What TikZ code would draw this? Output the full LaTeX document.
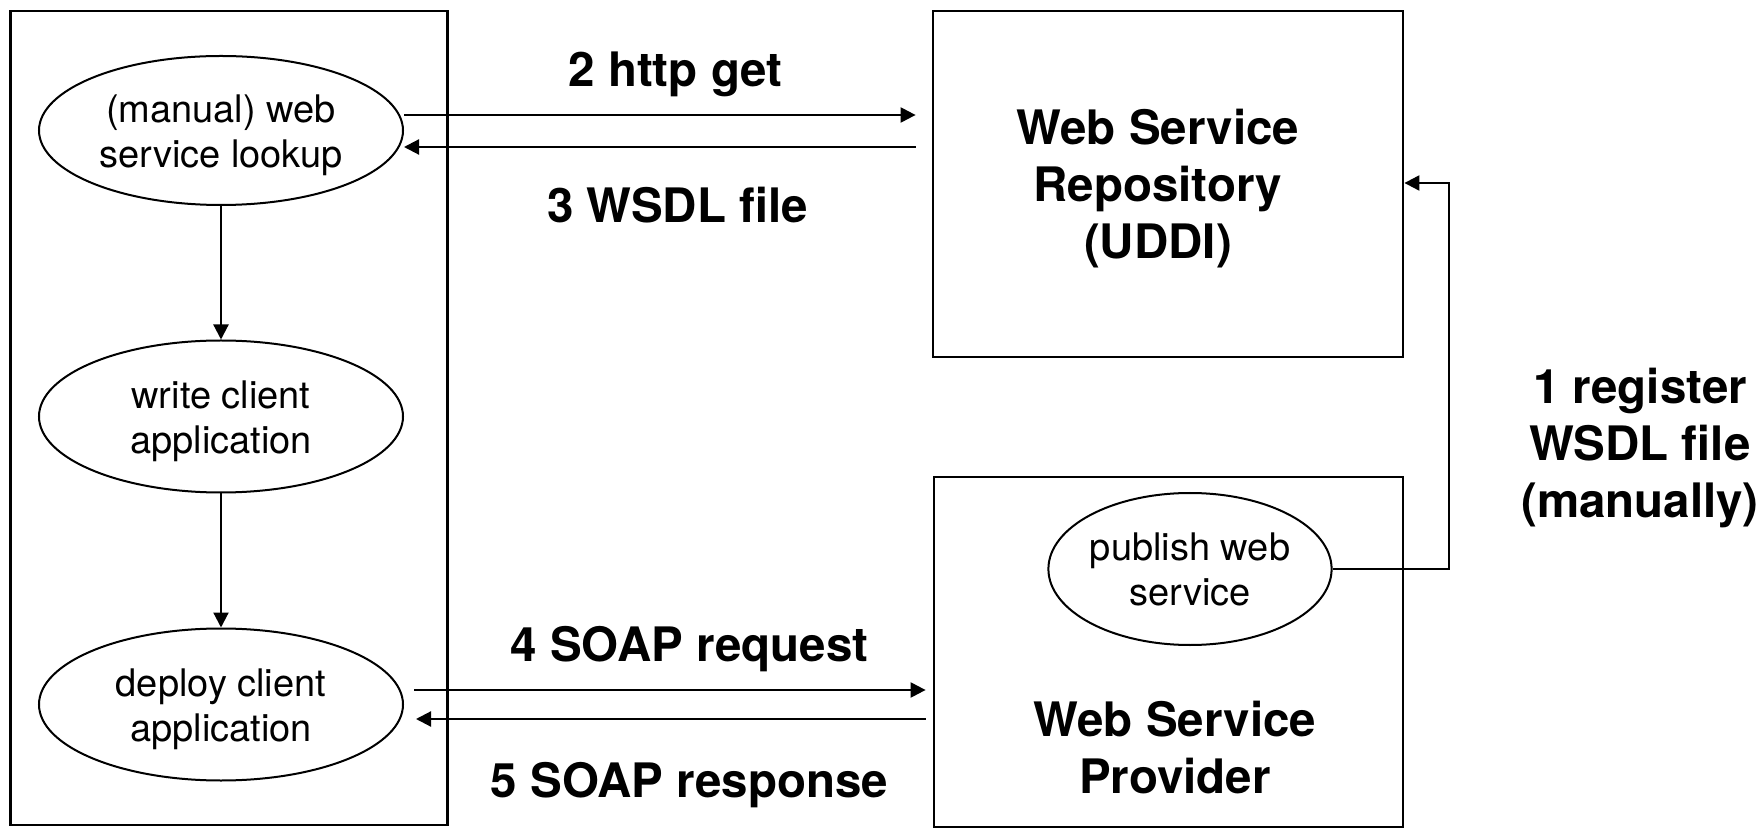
\documentclass[tikz,border=0pt]{standalone}
\usepackage{fontspec}
\setmainfont{TeX Gyre Heros}
\usetikzlibrary{arrows.meta,shapes.geometric}
\newcommand{\topstrut}{\rule{0pt}{18.2pt}}
\begin{document}
\begin{tikzpicture}[x=0.5pt,y=-0.5pt,
  box/.style={draw, line width=1.4pt, inner sep=0pt},
  task/.style={draw, ellipse, line width=1pt, inner sep=0pt, minimum width=182pt, minimum height=76pt, align=center, font=\fontsize{19}{22.5}\selectfont},
  title/.style={align=center, inner sep=0pt, font=\fontsize{23.75}{28.5}\selectfont\bfseries},
  lab/.style={inner sep=0pt, anchor=base, font=\fontsize{23.75}{28.5}\selectfont\bfseries},
  arr/.style={line width=1.1pt, -{Triangle[length=7.5pt,width=7.5pt]}},
  conn/.style={line width=1.1pt}]
\useasboundingbox (0,0) rectangle (1764,838);
% containers
\node[box, minimum width=218.5pt, minimum height=407pt] (client) at (229.25,418) {};
\node[box, minimum width=235pt, minimum height=173pt] (repo) at (1168,184) {};
\node[box, minimum width=234.5pt, minimum height=175pt] (prov) at (1168.5,652) {};
% tasks
\node[task, minimum height=74.5pt] (lookup) at (221,130.5) {\topstrut(manual) web\\service lookup};
\node[task] (write) at (221,416.5) {\topstrut write client\\application};
\node[task] (deploy) at (221,704.5) {\topstrut deploy client\\application};
\node[task, minimum width=137pt] (publish) at (1190,569) {publish web\\service};
% titles
\node[title] (repotitle) at (1158,189) {Web Service\\Repository\\(UDDI)};
\node[title] (provtitle) at (1175,748) {Web Service\\Provider};
\node[title] (reglabel) at (1640,448.5) {1 register\\WSDL file\\(manually)};
% message labels
\node[lab] (l2) at (675.5,87) {2 http get};
\node[lab] (l3) at (677.5,223) {3 WSDL file};
\node[lab] (l4) at (689.5,661) {4 SOAP request};
\node[lab] (l5) at (689.5,797) {5 SOAP response};
% flow inside client
\draw[arr] (lookup) -- (write);
\draw[arr] (write) -- (deploy);
% lookup <-> repository
\draw[arr] ([yshift=7.75pt]lookup.east) -- ([yshift=7.75pt,xshift=-8pt]lookup.east -| repo.west);
\draw[arr] ([yshift=-8.25pt,xshift=-8pt]lookup.east -| repo.west) -- ([yshift=-8.25pt]lookup.east);
% deploy <-> provider
\draw[arr] ([yshift=7.25pt,xshift=5pt]deploy.east) -- ([yshift=7.25pt,xshift=-3.5pt]deploy.east -| prov.west);
\draw[arr] ([yshift=-7.25pt,xshift=-3.5pt]deploy.east -| prov.west) -- ([yshift=-7.25pt,xshift=6pt]deploy.east);
% register
\coordinate (bend) at (1449,183);
\draw[arr] (publish.east) -| (bend) -- (bend -| repo.east);
\end{tikzpicture}
\end{document}
